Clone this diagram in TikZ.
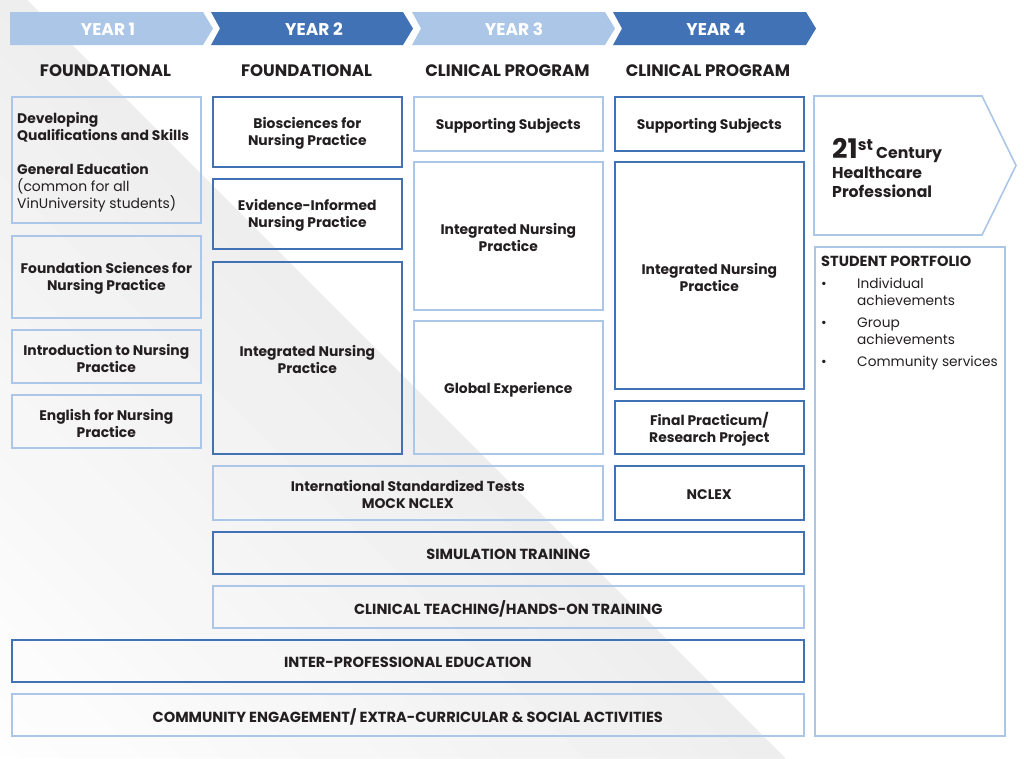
\documentclass[tikz,border=0pt]{standalone}
\usepackage{fontspec}
\setmainfont{Poppins}
\definecolor{lblue}{HTML}{ABC6E7}
\definecolor{dblue}{HTML}{4272B6}
\definecolor{txt}{HTML}{231F20}
% #1 style, #2 name, #3 x, #4 y, #5 width, #6 height, #7 text
\newcommand{\bx}[7]{%
  \node[#1, minimum width=#5pt, minimum height=#6pt] (#2) at (#3,#4) {};
  \node[boxtext, #1, draw=none, anchor=center, yshift=-2pt] (#2t) at (#2.center) {#7};}
\begin{document}
\begin{tikzpicture}[x=1pt,y=-1pt,
  boxbase/.style={line width=1.6pt, align=center, text=txt, inner sep=0pt, anchor=north west,
    font=\bfseries\fontsize{13.9}{17}\selectfont},
  boxtext/.style={minimum width=0pt, minimum height=0pt},
  lbox/.style={boxbase, draw=lblue},
  dbox/.style={boxbase, draw=dblue},
  lcaps/.style={lbox, font=\bfseries\fontsize{14.6}{17}\selectfont},
  dcaps/.style={dbox, font=\bfseries\fontsize{14.6}{17}\selectfont},
  yeartext/.style={text=white, font=\bfseries\fontsize{17}{18}\selectfont},
  headtext/.style={text=txt, font=\bfseries\fontsize{16.6}{18}\selectfont},
  plain/.style={text=txt, inner sep=0pt, anchor=base west}
]
\useasboundingbox (0,0) rectangle (1024,758);
% background diagonal shade
\begin{scope}
\clip (0,0) rectangle (1024,758);
\foreach \i in {1,...,20}{
  \pgfmathsetmacro{\d}{840-40*\i}
  \pgfmathsetmacro{\c}{0.33*\i}
  \fill[black!\c] (27,0) -- (785,758) -- ({785-\d},758) -- ({27-\d},0) -- cycle;
}
\end{scope}
% header chevrons
\fill[lblue] (10,12) -- (203,12) -- (213,28.5) -- (203,45) -- (10,45) -- cycle;
\fill[dblue] (211,12) -- (403,12) -- (413,28.5) -- (403,45) -- (211,45) -- (220,28.5) -- cycle;
\fill[lblue] (412,12) -- (605,12) -- (615,28.5) -- (605,45) -- (412,45) -- (421,28.5) -- cycle;
\fill[dblue] (613,12) -- (806,12) -- (816,28.5) -- (806,45) -- (613,45) -- (622,28.5) -- cycle;
\node[yeartext] (y1) at (108,29.5) {YEAR 1};
\node[yeartext] (y2) at (314,29.5) {YEAR 2};
\node[yeartext] (y3) at (514,29.5) {YEAR 3};
\node[yeartext] (y4) at (716,29.5) {YEAR 4};
\node[headtext] (h1) at (105.5,70.5) {FOUNDATIONAL};
\node[headtext] (h2) at (306.5,70.5) {FOUNDATIONAL};
\node[headtext] (h3) at (507.5,70.5) {CLINICAL PROGRAM};
\node[headtext] (h4) at (708,70.5) {CLINICAL PROGRAM};
% column 1
\node[lbox, minimum width=189pt, minimum height=126pt] (a) at (11,96) {};
\node[plain, align=left, font=\bfseries\fontsize{13.9}{17}\selectfont] (atext) at (17,208)
  {Developing\\Qualifications and Skills\\[17pt]General Education\\\mdseries(common for all\\\mdseries VinUniversity students)};
\bx{lbox}{b}{11}{235}{189}{82}{Foundation Sciences for\\Nursing Practice}
\bx{lbox}{c}{11}{329}{189}{53}{Introduction to Nursing\\Practice}
\bx{lbox}{d}{11}{394}{189}{53}{English for Nursing\\Practice}
% column 2
\bx{dbox}{e}{212}{96}{189}{70}{Biosciences for\\Nursing Practice}
\bx{dbox}{f}{212}{178}{189}{70}{Evidence-Informed\\Nursing Practice}
\bx{dbox}{g}{212}{261}{189}{192}{Integrated Nursing\\Practice}
% column 3
\bx{lbox}{h}{413}{96}{189}{54}{Supporting Subjects}
\bx{lbox}{i}{413}{161}{189}{148}{Integrated Nursing\\Practice}
\bx{lbox}{j}{413}{320}{189}{133}{Global Experience}
% column 4
\bx{dbox}{k}{614}{96}{189}{54}{Supporting Subjects}
\bx{dbox}{l}{614}{161}{189}{227}{Integrated Nursing\\Practice}
\bx{dbox}{m}{614}{400}{189}{53}{Final Practicum/\\Research Project}
% rows
\bx{lbox}{n}{212}{465}{390}{54}{International Standardized Tests\\MOCK NCLEX}
\bx{dbox}{o}{614}{465}{189}{54}{NCLEX}
\bx{dcaps}{p}{212}{531}{591}{42}{SIMULATION TRAINING}
\bx{lcaps}{q}{212}{585}{591}{42}{CLINICAL TEACHING/HANDS-ON TRAINING}
\bx{dcaps}{r}{11}{639}{792}{42}{INTER-PROFESSIONAL EDUCATION}
\bx{lcaps}{s}{11}{693}{792}{42}{COMMUNITY ENGAGEMENT/ EXTRA-CURRICULAR \& SOCIAL ACTIVITIES}
% right column
\draw[lblue, line width=1.6pt] (814,96) -- (982,96) -- (1016,165.5) -- (982,235) -- (814,235) -- cycle;
\node[plain, align=left, font=\bfseries\fontsize{15.7}{19.5}\selectfont] (t) at (832,197.5)
  {{\fontsize{27}{27}\selectfont 21}\raisebox{8pt}{\fontsize{15.7}{15.7}\selectfont st} Century\\Healthcare\\Professional};
\node[lbox, minimum width=190pt, minimum height=489pt] (u) at (814,246) {};
\node[plain, font=\bfseries\fontsize{14.6}{17}\selectfont] (ut) at (821,266) {STUDENT PORTFOLIO};
\node[plain, font=\fontsize{13.7}{17}\selectfont] (b1) at (821,288) {•};
\node[plain, font=\fontsize{13.7}{17}\selectfont] (b2) at (821,327) {•};
\node[plain, font=\fontsize{13.7}{17}\selectfont] (b3) at (821,366) {•};
\node[plain, align=left, font=\fontsize{13.7}{17}\selectfont] (ui) at (857,366)
  {Individual\\achievements\\[5pt]Group\\achievements\\[5pt]Community services};
\end{tikzpicture}
\end{document}
